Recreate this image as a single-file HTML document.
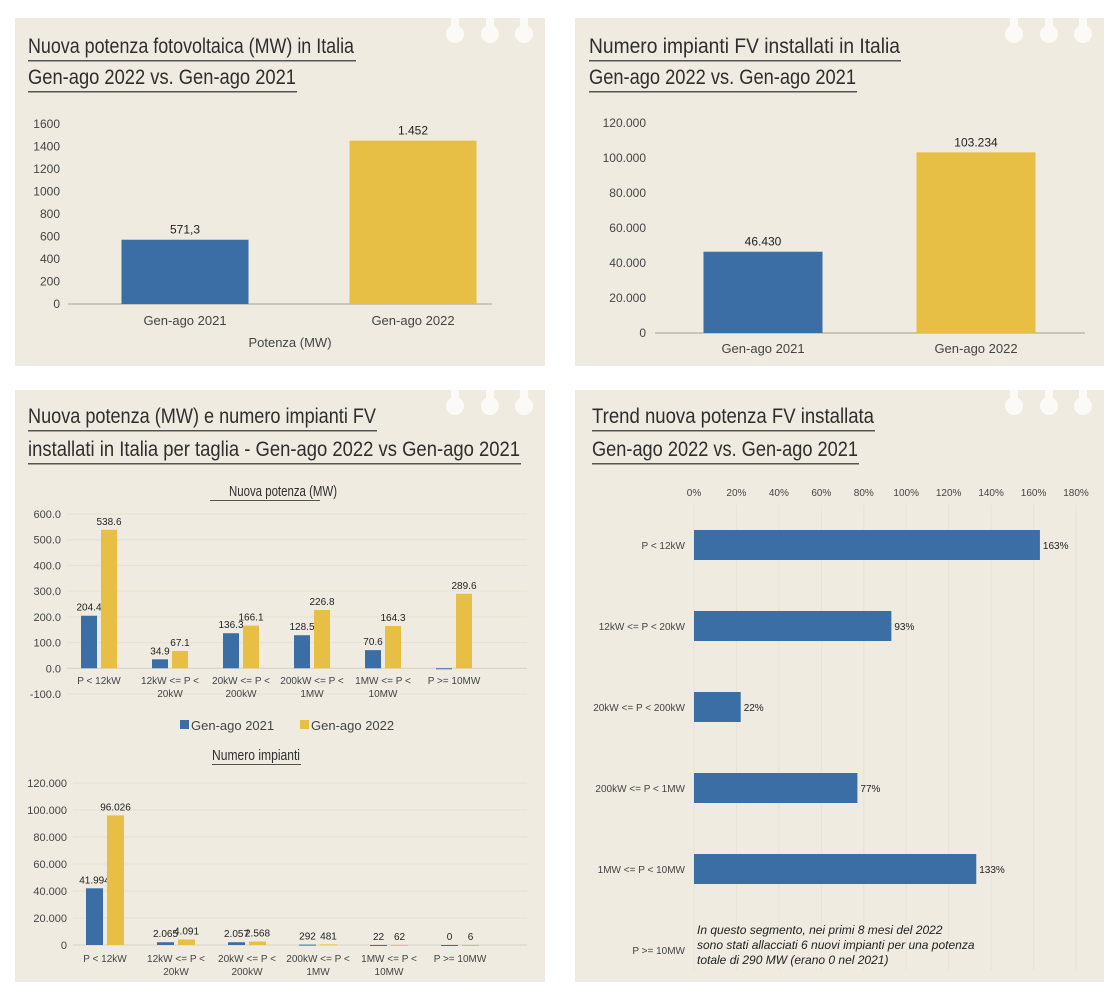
<!DOCTYPE html>
<html><head><meta charset="utf-8">
<style>
html,body{margin:0;padding:0;background:#fff;}
svg{display:block;font-family:"Liberation Sans",sans-serif;}
.ttl{font-family:"Liberation Sans Narrow","Liberation Sans",sans-serif;fill:#2e2e2e;font-size:21px;}
.tk{fill:#444;font-size:12px;}
.vl{fill:#222;font-size:12px;}
</style></head>
<body>
<svg id="s" width="1119" height="996" viewBox="0 0 1119 996">
<g id="panels"></g>
<g id="titles">
<text class="ttl" x="28" y="53" textLength="326" lengthAdjust="spacingAndGlyphs">Nuova potenza fotovoltaica (MW) in Italia</text>
<text class="ttl" x="28" y="84" textLength="268" lengthAdjust="spacingAndGlyphs">Gen-ago 2022 vs. Gen-ago 2021</text>
<rect x="28" y="60" width="328" height="1.5" fill="#555"/>
<rect x="28" y="91" width="269" height="1.5" fill="#555"/>
<text class="ttl" x="589" y="53" textLength="311" lengthAdjust="spacingAndGlyphs">Numero impianti FV installati in Italia</text>
<text class="ttl" x="589" y="84" textLength="267" lengthAdjust="spacingAndGlyphs">Gen-ago 2022 vs. Gen-ago 2021</text>
<rect x="589" y="60" width="312" height="1.5" fill="#555"/>
<rect x="589" y="91" width="268" height="1.5" fill="#555"/>
<text class="ttl" x="28" y="423" textLength="348" lengthAdjust="spacingAndGlyphs">Nuova potenza (MW) e numero impianti FV</text>
<text class="ttl" x="28" y="456" textLength="492" lengthAdjust="spacingAndGlyphs">installati in Italia per taglia - Gen-ago 2022 vs Gen-ago 2021</text>
<rect x="28" y="430" width="349" height="1.5" fill="#555"/>
<rect x="28" y="463" width="493" height="1.5" fill="#555"/>
<text class="ttl" x="592" y="423" textLength="282" lengthAdjust="spacingAndGlyphs">Trend nuova potenza FV installata</text>
<text class="ttl" x="592" y="456" textLength="266" lengthAdjust="spacingAndGlyphs">Gen-ago 2022 vs. Gen-ago 2021</text>
<rect x="592" y="430" width="283" height="1.5" fill="#555"/>
<rect x="592" y="463" width="267" height="1.5" fill="#555"/>
<text class="ttl" x="283" y="496" text-anchor="middle" style="font-size:15px" textLength="108" lengthAdjust="spacingAndGlyphs">Nuova potenza (MW)</text>
<rect x="210" y="500" width="110" height="1" fill="#555"/>
<text class="ttl" x="256" y="760" text-anchor="middle" style="font-size:15px" textLength="88" lengthAdjust="spacingAndGlyphs">Numero impianti</text>
<rect x="212" y="764" width="89" height="1" fill="#555"/>
</g>
<g id="c1"></g><g id="c2"></g><g id="c3"></g><g id="c4"></g><g id="c5"></g>
<g style="font-style:italic;font-size:12px;fill:#222">
<text x="697" y="934">In questo segmento, nei primi 8 mesi del 2022</text>
<text x="697" y="949">sono stati allacciati 6 nuovi impianti per una potenza</text>
<text x="697" y="964">totale di 290 MW (erano 0 nel 2021)</text>
</g>
</svg>
<script>
// ---- data ----
const periods = ["Gen-ago 2021","Gen-ago 2022"];
const potenzaTot = [571.3, 1452];
const potenzaTotLabels = ["571,3","1.452"];
const potenzaTicks = [0,200,400,600,800,1000,1200,1400,1600];
const impiantiTot = [46430, 103234];
const impiantiTotLabels = ["46.430","103.234"];
const impiantiTicks = [0,20000,40000,60000,80000,100000,120000];
const impiantiTickLabels = ["0","20.000","40.000","60.000","80.000","100.000","120.000"];
const tagliaCats = [["P < 12kW"],["12kW <= P <","20kW"],["20kW <= P <","200kW"],["200kW <= P <","1MW"],["1MW <= P <","10MW"],["P >= 10MW"]];
const potenza2021 = [204.4, 34.9, 136.3, 128.5, 70.6, -2];
const potenza2022 = [538.6, 67.1, 166.1, 226.8, 164.3, 289.6];
const potenza2021Labels = ["204.4","34.9","136.3","128.5","70.6",""];
const potenza2022Labels = ["538.6","67.1","166.1","226.8","164.3","289.6"];
const potenzaTagliaTicks = [-100,0,100,200,300,400,500,600];
const impianti2021 = [41994, 2065, 2057, 292, 22, 0];
const impianti2022 = [96026, 4091, 2568, 481, 62, 6];
const impianti2021Labels = ["41.994","2.065","2.057","292","22","0"];
const impianti2022Labels = ["96.026","4.091","2.568","481","62","6"];
const impiantiTagliaTicks = [0,20000,40000,60000,80000,100000,120000];
const trendCats = ["P < 12kW","12kW <= P < 20kW","20kW <= P < 200kW","200kW <= P < 1MW","1MW <= P < 10MW","P >= 10MW"];
const trendValues = [163, 93, 22, 77, 133, null];
const trendTicks = [0,20,40,60,80,100,120,140,160,180];

const NS="http://www.w3.org/2000/svg";
const BLUE="#3a6ea5", YEL="#e8bf45";
function mk(tag, parent, attrs, txt){const e=document.createElementNS(NS,tag);for(const k in attrs)e.setAttribute(k,attrs[k]);if(txt!==undefined)e.textContent=txt;parent.appendChild(e);return e;}
function lin(d0,d1,r0,r1){return v=>r0+(v-d0)*(r1-r0)/(d1-d0);}
const fmt1=v=>v.toFixed(1);

// panels
const P=document.getElementById('panels');
[[15,18,530,348],[575,18,529,348],[15,390,530,592],[575,390,529,592]].forEach(p=>{
  const r=mk('rect',P,{x:p[0],y:p[1],width:p[2],height:p[3],fill:"#efebe1"});
  
  
  [70,35,1].forEach(o=>{
    const cx=p[0]+p[2]-21-o+1;
    const c=mk('circle',P,{cx:cx,cy:p[1]+16,r:9,fill:"#fbfaf6"});
    
    
    mk('rect',P,{x:cx-4,y:p[1],width:8,height:10,fill:"#fbfaf6"});
  });
});

function simpleChart(g, vals, labels, ticks, tickLabels, y0, yTop, xl, xr, axisX, centers, bw, cols, catY){
  const y=lin(0,ticks[ticks.length-1],y0,yTop);
  ticks.forEach((t,i)=>{
    const tx=mk('text',g,{x:axisX,y:y(t)+4,"text-anchor":"end",class:"tk"},tickLabels[i]);
    
    
  });
  const ax=mk('line',g,{x1:xl,x2:xr,y1:y0,y2:y0,stroke:"#bdb9b0","stroke-width":1.5});
  
  
  vals.forEach((v,i)=>{
    const b=mk('rect',g,{x:centers[i]-bw/2,y:y(v),width:bw,height:y0-y(v),fill:cols[i]});
    
    
    const l=mk('text',g,{x:centers[i],y:y(v)-6,"text-anchor":"middle",class:"vl"},labels[i]);
    
    
    const c=mk('text',g,{x:centers[i],y:catY,"text-anchor":"middle",class:"tk",style:"font-size:13px"},periods[i]);
    
    
  });
}
simpleChart(document.getElementById('c1'),potenzaTot,potenzaTotLabels,potenzaTicks,potenzaTicks.map(String),304,124,68,492,60,[185,413],127,[BLUE,YEL],325);
const xt=mk('text',document.getElementById('c1'),{x:290,y:347,"text-anchor":"middle",class:"tk",style:"font-size:13px"},"Potenza (MW)");


simpleChart(document.getElementById('c2'),impiantiTot,impiantiTotLabels,impiantiTicks,impiantiTickLabels,333,123,655,1085,646,[763,976],119,[BLUE,YEL],353);

function groupChart(g, a, b, la, lb, ticks, tickLabels, yMinV, yMaxV, yBot, yTopPx, axisX, catY, bw){
  const y=lin(yMinV,yMaxV,yBot,yTopPx);
  const centers=tagliaCats.map((c,i)=>99+i*71+(bw>16?6:0));
  ticks.forEach((t,i)=>{
    const gl=mk('line',g,{x1:axisX+6,x2:527,y1:y(t),y2:y(t),stroke:"#e7e2d4","stroke-width":1});
    
    
    const tx=mk('text',g,{x:axisX,y:y(t)+4,"text-anchor":"end",class:"tk",style:"font-size:11px"},tickLabels[i]);
    
    
  });
  const y0=y(0);
  mk('line',g,{x1:axisX+6,x2:527,y1:y0,y2:y0,stroke:"#d8d3c6","stroke-width":1});
  tagliaCats.forEach((c,i)=>{
    const cx=centers[i];
    [[a[i],la[i],BLUE,cx-bw/2-2,'bar-2021'],[b[i],lb[i],YEL,cx+bw/2+2,'bar-2022']].forEach(s=>{
      const v=s[0], top=Math.min(y(v),y0), h=Math.max(Math.abs(y(v)-y0),1);
      const r=mk('rect',g,{x:s[3]-bw/2,y:top,width:bw,height:h,fill:s[2]});
      
      
      if(s[1]){
        const l=mk('text',g,{x:s[3],y:Math.min(y(v),y0)-5,"text-anchor":"middle",class:"vl",style:"font-size:10px"},s[1]);
        
        
      }
    });
    c.forEach((ln,j)=>{
      const t=mk('text',g,{x:cx,y:catY+j*13,"text-anchor":"middle",class:"tk",style:"font-size:10px"},ln);
      
      
    });
  });
}
groupChart(document.getElementById('c3'),potenza2021,potenza2022,potenza2021Labels,potenza2022Labels,potenzaTagliaTicks,potenzaTagliaTicks.map(fmt1),-100,600,694,514,61,684,16);
groupChart(document.getElementById('c4'),impianti2021,impianti2022,impianti2021Labels,impianti2022Labels,impiantiTagliaTicks,impiantiTickLabels,0,120000,945,783,67,962,17);

const c3=document.getElementById('c3');
[[180,BLUE,"Gen-ago 2021"],[300,YEL,"Gen-ago 2022"]].forEach(l=>{
  const sq=mk('rect',c3,{x:l[0],y:720,width:9,height:9,fill:l[1]});
  
  
  const t=mk('text',c3,{x:l[0]+11,y:730,class:"tk",style:"font-size:13px"},l[2]);
  
  
});

const c5=document.getElementById('c5');
const xs=lin(0,180,694,1076);
trendTicks.forEach(t=>{
  const gl=mk('line',c5,{x1:xs(t),x2:xs(t),y1:505,y2:970,stroke:"#e8e3d6","stroke-width":1});
  
  
  const tx=mk('text',c5,{x:xs(t),y:496,"text-anchor":"middle",class:"tk",style:"font-size:10px"},t+"%");
  
  
});
trendCats.forEach((c,i)=>{
  const cy=545+i*81;
  const t=mk('text',c5,{x:685,y:cy+4,"text-anchor":"end",class:"tk",style:"font-size:10px"},c);
  
  
  const v=trendValues[i];
  if(v!==null){
    const r=mk('rect',c5,{x:xs(0),y:cy-15,width:xs(v)-xs(0),height:30,fill:BLUE});
    
    
    const l=mk('text',c5,{x:xs(v)+3,y:cy+4,class:"vl",style:"font-size:10px"},v+"%");
    
    
  }
});
</script>
</body></html>
